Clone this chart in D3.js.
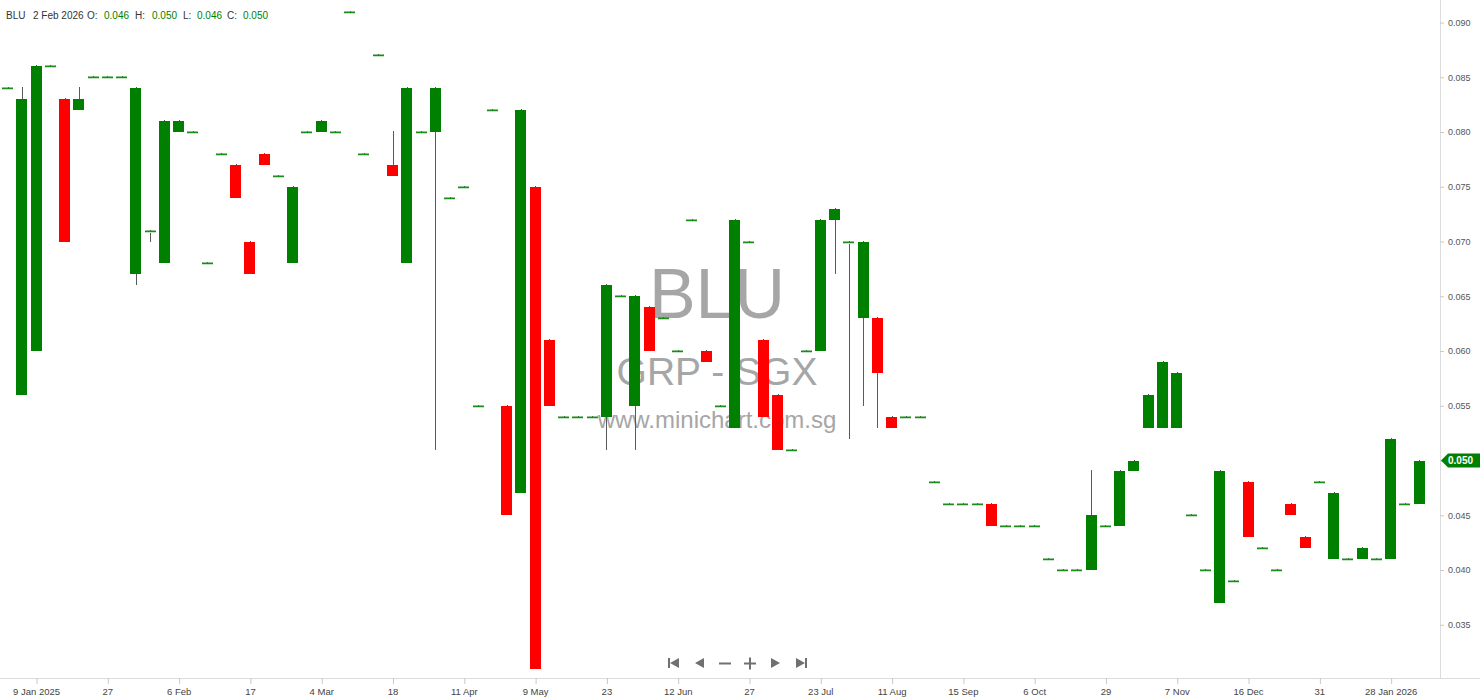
<!DOCTYPE html>
<html>
<head>
<meta charset="utf-8">
<script src="https://cdn.jsdelivr.net/npm/d3@7"></script>
<style>
    body { margin: 0; background: #fff; }
    svg { display: block; font-family: "Liberation Sans", Arial, sans-serif; }
    .x.axis text { font-size: 9.5px; fill: #444; }
    .y.axis text { font-size: 9px; fill: #555; }
    .axis line { stroke: #c8c8c8; }
</style>
</head>
<body>
<div id="chart"></div>
<script>
// BLU daily candles (one bar per trading day with trades)
var opens = [
    0.084, 0.056, 0.060, 0.086, 0.083, 0.082, 0.085, 0.085, 0.085, 0.067,
    0.071, 0.068, 0.080, 0.080, 0.068, 0.078, 0.077, 0.070, 0.078, 0.076,
    0.068, 0.080, 0.080, 0.080, 0.091, 0.078, 0.087, 0.077, 0.068, 0.080,
    0.080, 0.074, 0.075, 0.055, 0.082, 0.055, 0.047, 0.075, 0.061, 0.054,
    0.054, 0.054, 0.054, 0.065, 0.055, 0.064, 0.063, 0.060, 0.072, 0.060,
    0.055, 0.053, 0.070, 0.061, 0.056, 0.051, 0.060, 0.060, 0.072, 0.070,
    0.063, 0.063, 0.054, 0.054, 0.054, 0.048, 0.046, 0.046, 0.046, 0.046,
    0.044, 0.044, 0.044, 0.041, 0.040, 0.040, 0.040, 0.044, 0.044, 0.049,
    0.053, 0.053, 0.053, 0.045, 0.040, 0.037, 0.039, 0.048, 0.042, 0.040,
    0.046, 0.043, 0.048, 0.041, 0.041, 0.041, 0.041, 0.041, 0.046, 0.046
];
var highs = [
    0.084, 0.084, 0.086, 0.086, 0.083, 0.084, 0.085, 0.085, 0.085, 0.084,
    0.071, 0.081, 0.081, 0.080, 0.068, 0.078, 0.077, 0.070, 0.078, 0.076,
    0.075, 0.080, 0.081, 0.080, 0.091, 0.078, 0.087, 0.080, 0.084, 0.080,
    0.084, 0.074, 0.075, 0.055, 0.082, 0.055, 0.082, 0.075, 0.061, 0.054,
    0.054, 0.054, 0.066, 0.065, 0.065, 0.064, 0.063, 0.060, 0.072, 0.060,
    0.055, 0.072, 0.070, 0.061, 0.056, 0.051, 0.060, 0.072, 0.073, 0.070,
    0.070, 0.063, 0.054, 0.054, 0.054, 0.048, 0.046, 0.046, 0.046, 0.046,
    0.044, 0.044, 0.044, 0.041, 0.040, 0.040, 0.049, 0.044, 0.049, 0.050,
    0.056, 0.059, 0.058, 0.045, 0.040, 0.049, 0.039, 0.048, 0.042, 0.040,
    0.046, 0.043, 0.048, 0.047, 0.041, 0.042, 0.041, 0.052, 0.046, 0.050
];
var lows = [
    0.084, 0.056, 0.060, 0.086, 0.070, 0.082, 0.085, 0.085, 0.085, 0.066,
    0.070, 0.068, 0.080, 0.080, 0.068, 0.078, 0.074, 0.067, 0.077, 0.076,
    0.068, 0.080, 0.080, 0.080, 0.091, 0.078, 0.087, 0.076, 0.068, 0.080,
    0.051, 0.074, 0.075, 0.055, 0.082, 0.045, 0.047, 0.031, 0.055, 0.054,
    0.054, 0.054, 0.051, 0.065, 0.051, 0.060, 0.063, 0.060, 0.072, 0.059,
    0.055, 0.053, 0.070, 0.054, 0.051, 0.051, 0.060, 0.060, 0.067, 0.052,
    0.055, 0.053, 0.053, 0.054, 0.054, 0.048, 0.046, 0.046, 0.046, 0.044,
    0.044, 0.044, 0.044, 0.041, 0.040, 0.040, 0.040, 0.044, 0.044, 0.049,
    0.053, 0.053, 0.053, 0.045, 0.040, 0.037, 0.039, 0.043, 0.042, 0.040,
    0.045, 0.042, 0.048, 0.041, 0.041, 0.041, 0.041, 0.041, 0.046, 0.046
];
var closes = [
    0.084, 0.083, 0.086, 0.086, 0.070, 0.083, 0.085, 0.085, 0.085, 0.084,
    0.071, 0.081, 0.081, 0.080, 0.068, 0.078, 0.074, 0.067, 0.077, 0.076,
    0.075, 0.080, 0.081, 0.080, 0.091, 0.078, 0.087, 0.076, 0.084, 0.080,
    0.084, 0.074, 0.075, 0.055, 0.082, 0.045, 0.082, 0.031, 0.055, 0.054,
    0.054, 0.054, 0.066, 0.065, 0.065, 0.060, 0.063, 0.060, 0.072, 0.059,
    0.055, 0.072, 0.070, 0.054, 0.051, 0.051, 0.060, 0.072, 0.073, 0.070,
    0.070, 0.058, 0.053, 0.054, 0.054, 0.048, 0.046, 0.046, 0.046, 0.044,
    0.044, 0.044, 0.044, 0.041, 0.040, 0.040, 0.045, 0.044, 0.049, 0.050,
    0.056, 0.059, 0.058, 0.045, 0.040, 0.049, 0.039, 0.043, 0.042, 0.040,
    0.045, 0.042, 0.048, 0.047, 0.041, 0.042, 0.041, 0.052, 0.046, 0.050
];

// x axis labels sit on every 5th bar
var tickBars = [2, 7, 12, 17, 22, 27, 32, 37, 42, 47, 52, 57, 62, 67, 72, 77, 82, 87, 92, 97];
var tickLabels = ["9 Jan 2025", "27", "6 Feb", "17", "4 Mar", "18", "11 Apr", "9 May", "23", "12 Jun",
    "27", "23 Jul", "11 Aug", "15 Sep", "6 Oct", "29", "7 Nov", "16 Dec", "31", "28 Jan 2026"];
var priceTicks = [0.035, 0.040, 0.045, 0.050, 0.055, 0.060, 0.065, 0.070, 0.075, 0.080, 0.085, 0.090];

var lastLabel = { sym: "BLU", date: "2 Feb 2026" };

var W = 1480, H = 699;
var plotW = 1440, plotH = 678;
var green = "#008000", red = "#ff0000";

var svg = d3.select("#chart").append("svg")
    .attr("width", W)
    .attr("height", H);

svg.append("rect").attr("width", W).attr("height", H).attr("fill", "#fff");

var x = d3.scaleLinear().domain([-0.526, 100.46]).range([0, plotW]);
var y = d3.scaleLinear().domain([0.03014, 0.09206]).range([plotH, 0]);
var bodyW = 11;

var candles = opens.map(function(o, i) {
    return { i: i, o: o, h: highs[i], l: lows[i], c: closes[i] };
});

// watermark, behind the candles
var wm = svg.append("g").attr("fill", "#a6a6a6").attr("text-anchor", "middle")
    .attr("font-family", "'Liberation Sans', Arial, sans-serif");
wm.append("text").attr("x", 717).attr("y", 318).attr("font-size", "70px").text("BLU");
wm.append("text").attr("x", 717).attr("y", 385).attr("font-size", "39px").text("GRP - SGX");
wm.append("text").attr("x", 717).attr("y", 428).attr("font-size", "24px").text("www.minichart.com.sg");

// frame lines
svg.append("line")
    .attr("x1", 0).attr("x2", W)
    .attr("y1", plotH + 0.5).attr("y2", plotH + 0.5)
    .attr("stroke", "#dcdcdc");
svg.append("line")
    .attr("x1", plotW + 0.5).attr("x2", plotW + 0.5)
    .attr("y1", 0).attr("y2", plotH)
    .attr("stroke", "#dcdcdc");

var g = svg.append("g").attr("class", "candles");

// wicks
g.selectAll(".wick")
    .data(candles)
    .enter().append("line")
    .attr("class", "wick")
    .attr("x1", function(d) { return Math.round(x(d.i)) + 0.5; })
    .attr("x2", function(d) { return Math.round(x(d.i)) + 0.5; })
    .attr("y1", function(d) { return Math.round(y(d.h)) - 1; })
    .attr("y2", function(d) { return Math.round(y(d.l)); })
    .attr("stroke", "#5a5a5a")
    .attr("stroke-width", 1);

// bodies
g.selectAll(".body")
    .data(candles.filter(function(d) { return d.o != d.c; }))
    .enter().append("rect")
    .attr("class", "body")
    .attr("x", function(d) { return Math.round(x(d.i) - bodyW / 2); })
    .attr("y", function(d) { return Math.round(y(Math.max(d.o, d.c))); })
    .attr("width", bodyW)
    .attr("height", function(d) {
        return Math.round(y(Math.min(d.o, d.c))) - Math.round(y(Math.max(d.o, d.c)));
    })
    .attr("fill", function(d) { return d.c > d.o ? green : red; });

// flat days (open == close) drawn as a thin dash
var flat = g.selectAll(".flat")
    .data(candles.filter(function(d) { return d.o == d.c; }))
    .enter().append("g")
    .attr("class", "flat");
flat.append("rect")
    .attr("x", function(d) { return Math.round(x(d.i) - bodyW / 2); })
    .attr("y", function(d) { return Math.round(y(d.c)) - 0.5; })
    .attr("width", bodyW)
    .attr("height", 1.5)
    .attr("fill", "#1a8c1a");
flat.append("rect")
    .attr("x", function(d) { return Math.round(x(d.i) - bodyW / 2); })
    .attr("y", function(d) { return Math.round(y(d.c)) + 1; })
    .attr("width", bodyW)
    .attr("height", 1)
    .attr("fill", "#c4e3c4");

// axes
var xAxisCall = d3.axisBottom(x)
    .tickValues(tickBars)
    .tickFormat(function(d, k) { return tickLabels[k]; })
    .tickSize(6)
    .tickPadding(4);
var xAxis = svg.append("g")
    .attr("class", "x axis")
    .attr("transform", "translate(0," + plotH + ")")
    .call(xAxisCall);
xAxis.select(".domain").remove();
xAxis.selectAll(".tick line").attr("transform", "translate(0.5,0)");

var yAxisCall = d3.axisRight(y)
    .tickValues(priceTicks)
    .tickFormat(d3.format(".3f"))
    .tickSize(4)
    .tickPadding(4);
var yAxis = svg.append("g")
    .attr("class", "y axis")
    .attr("transform", "translate(" + plotW + ",0)")
    .call(yAxisCall);
yAxis.select(".domain").remove();

// last price tag
var last = candles[candles.length - 1];
var ty = Math.round(y(last.c)) - 0.5;
svg.append("path")
    .attr("d", "M" + (plotW + 1) + "," + ty + "L" + (plotW + 8) + "," + (ty - 7) +
        "H" + W + "V" + (ty + 7) + "H" + (plotW + 8) + "Z")
    .attr("fill", green);
svg.append("text")
    .attr("x", plotW + 8)
    .attr("y", ty + 3.5)
    .attr("font-size", "10px")
    .attr("font-weight", "bold")
    .attr("fill", "#fff")
    .text(d3.format(".3f")(last.c));

// header line
var fmt = d3.format(".3f");
var hdr = svg.append("g").attr("font-size", "10px").attr("fill", "#333");
hdr.append("text").attr("x", 6).attr("y", 19).text(lastLabel.sym);
hdr.append("text").attr("x", 33).attr("y", 19).text(lastLabel.date);
[["O:", last.o, 87, 104], ["H:", last.h, 135, 152], ["L:", last.l, 183, 197], ["C:", last.c, 227, 243]]
    .forEach(function(p) {
        hdr.append("text").attr("x", p[2]).attr("y", 19).text(p[0]);
        hdr.append("text").attr("x", p[3]).attr("y", 19).attr("fill", green).text(fmt(p[1]));
    });

// navigation buttons
var nav = svg.append("g").attr("fill", "#707070").attr("stroke", "#707070");
var ny = 663;
nav.append("rect").attr("x", 668).attr("y", ny - 5).attr("width", 2).attr("height", 10).attr("stroke", "none");
nav.append("path").attr("d", "M670," + ny + "L679," + (ny - 5) + "V" + (ny + 5) + "Z").attr("stroke", "none");
nav.append("path").attr("d", "M695," + ny + "L704," + (ny - 5) + "V" + (ny + 5) + "Z").attr("stroke", "none");
nav.append("line").attr("x1", 719).attr("x2", 731).attr("y1", ny + 0.5).attr("y2", ny + 0.5).attr("stroke-width", 2);
nav.append("line").attr("x1", 744).attr("x2", 756).attr("y1", ny + 0.5).attr("y2", ny + 0.5).attr("stroke-width", 2);
nav.append("line").attr("x1", 750).attr("x2", 750).attr("y1", ny - 5.5).attr("y2", ny + 6.5).attr("stroke-width", 2);
nav.append("path").attr("d", "M780," + ny + "L771," + (ny - 5) + "V" + (ny + 5) + "Z").attr("stroke", "none");
nav.append("path").attr("d", "M805," + ny + "L796," + (ny - 5) + "V" + (ny + 5) + "Z").attr("stroke", "none");
nav.append("rect").attr("x", 805).attr("y", ny - 5).attr("width", 2).attr("height", 10).attr("stroke", "none");
</script>
</body>
</html>
